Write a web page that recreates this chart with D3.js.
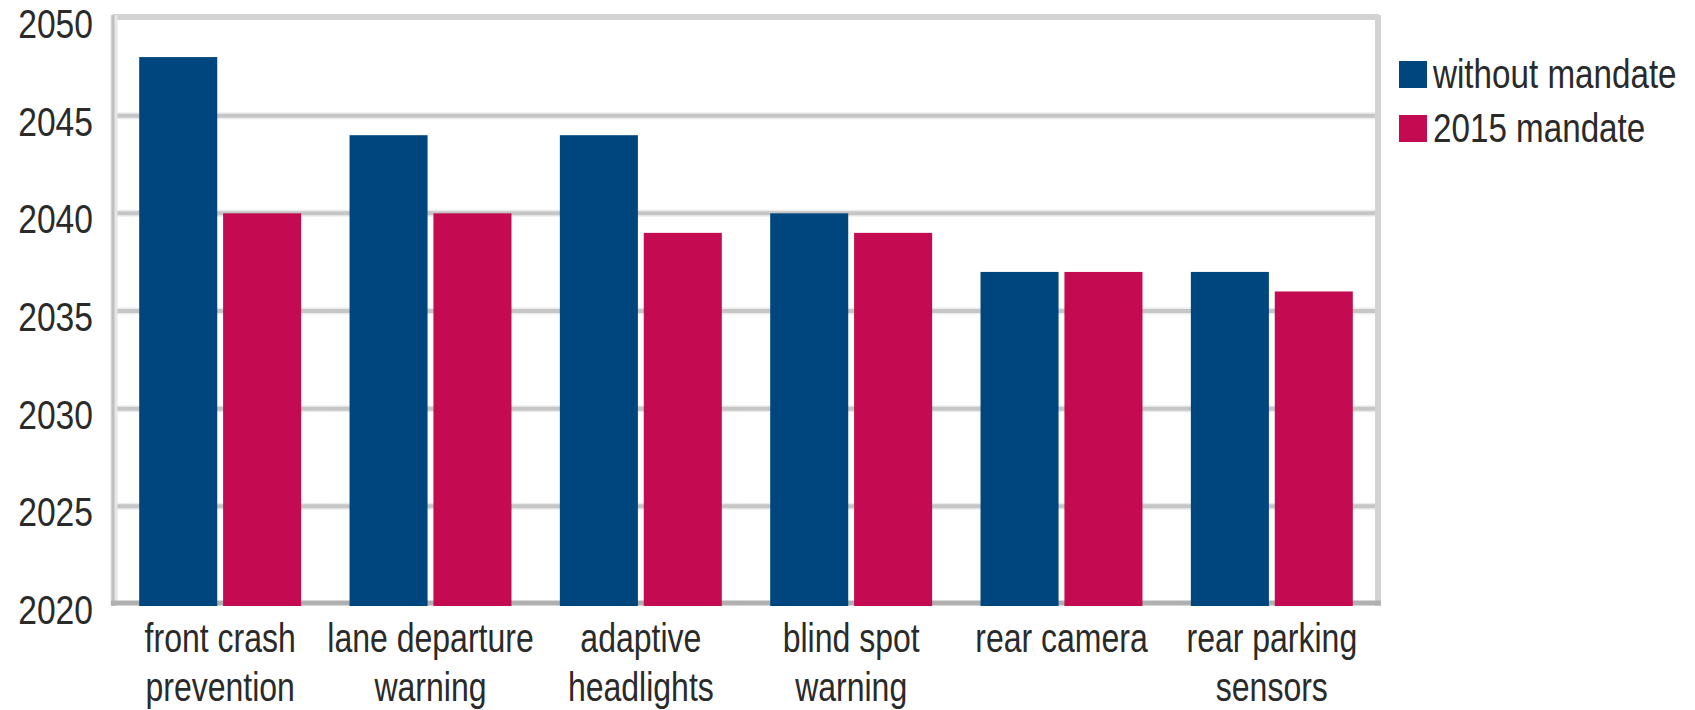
<!DOCTYPE html>
<html>
<head>
<meta charset="utf-8">
<script src="https://cdn.jsdelivr.net/npm/d3@7"></script>
<style>
  html,body{margin:0;padding:0;background:#fff;}
  svg{display:block;}
  text{font-family:"Liberation Sans",Arial,sans-serif;fill:#2a2a2a;}
</style>
</head>
<body>
<div id="chart"></div>
<script>
"use strict";
// данные
const categories = [["front crash","prevention"],["lane departure","warning"],["adaptive","headlights"],["blind spot","warning"],["rear camera"],["rear parking","sensors"]];
const seriesNames = ["without mandate","2015 mandate"];
const withoutMandate = [2048,2044,2044,2040,2037,2037];
const mandate2015   = [2040,2040,2039,2039,2037,2036];
const yTicks = [2020,2025,2030,2035,2040,2045,2050];
const COLORS = ["#00467e","#c40a50"];

const W = 1695, H = 710;
const plot = {l:115, r:1377, t:18, b:604};
const narrow = (k)=>`scale(${k},1)`;   // узкий шрифт (Arial Narrow нет) — сжимаем по X

const svg = d3.select("#chart").append("svg").attr("width",W).attr("height",H);

const y = d3.scaleLinear().domain([2020,2050]).range([plot.b, plot.t]);
const x0 = d3.scaleBand().domain(d3.range(categories.length)).range([plot.l, plot.r]).paddingInner(0.23).paddingOuter(0.115);
const x1 = d3.scaleBand().domain([0,1]).range([0, x0.bandwidth()]).paddingInner(0.07);

// рамка и сетка
const grid = svg.append("g");
grid.selectAll("line.g").data(yTicks.slice(1,-1)).join("line")
  .attr("x1",plot.l).attr("x2",plot.r).attr("y1",d=>y(d)).attr("y2",d=>y(d))
  .attr("stroke","#ececec").attr("stroke-width",7);
grid.selectAll("line.g2").data(yTicks.slice(1,-1)).join("line")
  .attr("x1",plot.l).attr("x2",plot.r).attr("y1",d=>y(d)).attr("y2",d=>y(d))
  .attr("stroke","#c6c6c6").attr("stroke-width",4);
grid.append("line").attr("x1",plot.l-2).attr("x2",plot.r+2).attr("y1",plot.t-1).attr("y2",plot.t-1).attr("stroke","#d2d2d2").attr("stroke-width",6);
grid.append("line").attr("x1",plot.r+1).attr("x2",plot.r+1).attr("y1",plot.t-3).attr("y2",plot.b+2).attr("stroke","#d4d4d4").attr("stroke-width",6);
grid.append("line").attr("x1",plot.l-1).attr("x2",plot.l-1).attr("y1",plot.t-3).attr("y2",plot.b+2).attr("stroke","#e6e6e6").attr("stroke-width",7);
grid.append("line").attr("x1",plot.l-2).attr("x2",plot.l-2).attr("y1",plot.t-3).attr("y2",plot.b+2).attr("stroke","#bfbfbf").attr("stroke-width",3);
grid.append("line").attr("x1",plot.l-4).attr("x2",plot.r+4).attr("y1",plot.b-1).attr("y2",plot.b-1).attr("stroke","#b0b0b0").attr("stroke-width",5);

// столбцы
const series = [withoutMandate, mandate2015];
const groups = svg.append("g").selectAll("g").data(categories).join("g")
  .attr("transform",(d,i)=>`translate(${x0(i)},0)`);
groups.selectAll("rect").data((d,i)=>series.map((s,k)=>({k, v:s[i]}))).join("rect")
  .attr("x",d=>x1(d.k)).attr("width",x1.bandwidth())
  .attr("y",d=>y(d.v)).attr("height",d=>plot.b+2-y(d.v))
  .attr("fill",d=>COLORS[d.k]);

// ось Y
const yAxis = svg.append("g").attr("transform",`translate(${plot.l-22},0)`)
  .call(d3.axisLeft(y).tickValues(yTicks).tickFormat(d3.format("d")).tickSize(0).tickPadding(0));
yAxis.select(".domain").remove();
yAxis.selectAll("text").attr("font-size",41).attr("dy",null).attr("x",0).attr("y",19.5)
  .attr("transform",narrow(0.82)).attr("fill","#2a2a2a")
  .style("font-family",'"Liberation Sans",Arial,sans-serif');

// подписи категорий
const xl = svg.append("g").selectAll("g").data(categories).join("g")
  .attr("transform",(d,i)=>`translate(${x0(i)+x0.bandwidth()/2},652)`)
  .append("text").attr("text-anchor","middle").attr("font-size",40).attr("transform",narrow(0.8));
xl.selectAll("tspan").data(d=>d).join("tspan")
  .attr("x",0).attr("dy",(d,i)=>i?49:0).text(d=>d);

// легенда
const lg = svg.append("g").attr("transform","translate(1399,61)");
seriesNames.forEach((n,i)=>{
  lg.append("rect").attr("x",0).attr("y",i*54).attr("width",28).attr("height",27).attr("fill",COLORS[i]);
  lg.append("g").attr("transform",`translate(34,${i*54+27})`)
    .append("text").attr("font-size",40).attr("transform",narrow(0.83)).text(n);
});
</script>
</body>
</html>
